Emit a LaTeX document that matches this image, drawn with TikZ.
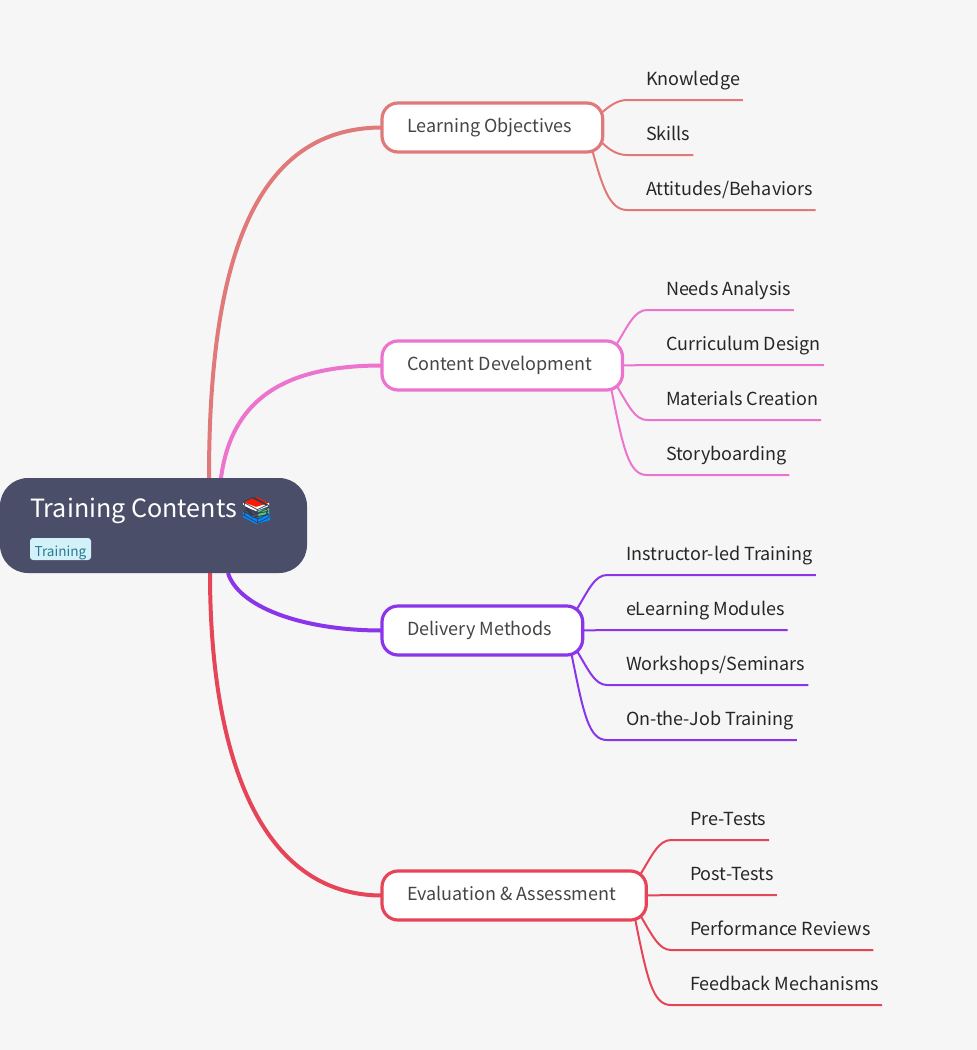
\documentclass[tikz,border=0pt]{standalone}
\usepackage{fontspec}
\setmainfont{Noto Sans CJK SC}
\newfontfamily\emojifont{Noto Emoji}
\usetikzlibrary{backgrounds}
\definecolor{paper}{HTML}{F6F6F6}
\definecolor{rootcol}{HTML}{4B4E69}
\definecolor{tagcol}{HTML}{D3F1F8}
\definecolor{tagtext}{HTML}{2B7A92}
\definecolor{objcol}{HTML}{E07A7A}
\definecolor{devcol}{HTML}{EC74CE}
\definecolor{delcol}{HTML}{8A35EA}
\definecolor{evalcol}{HTML}{E64558}
\tikzset{
  rootbox/.style={fill=rootcol, rounded corners=28pt, minimum width=307pt, minimum height=95pt, anchor=north west, inner sep=0pt, outer sep=0pt},
  tagbox/.style={fill=tagcol, rounded corners=3pt, text=tagtext, font=\fontsize{13.6}{14}\selectfont, anchor=north west, inner sep=0pt, outer sep=0pt, minimum width=61pt, minimum height=22pt, text height=16pt, text depth=2pt},
  branch/.style={draw=#1, fill=white, line width=3.2pt, rounded corners=16pt, minimum height=49pt, anchor=west, text=black!73, font=\fontsize{18}{18}\selectfont, inner xsep=25pt, inner ysep=0pt, outer sep=0pt, text height=14pt, text depth=4pt, execute at end node=\hspace*{5.5pt}},
  leaf/.style={anchor=south west, inner xsep=3pt, inner ysep=10pt, outer sep=0pt, text=black!85, font=\fontsize{18}{18}\selectfont, text height=13pt, text depth=5pt},
  trunk/.style={draw=#1, line width=4pt},
  twig/.style={draw=#1, line width=2pt}
}
\begin{document}
\begin{tikzpicture}[x=1pt,y=-1pt]
  \useasboundingbox (0,0) rectangle (977,1050);
  % Hintergrund
  \begin{pgfonlayer}{background}
    \fill[paper] (0,0) rectangle (977,1050);
  \end{pgfonlayer}
  % Wurzel
  \node[rootbox] (root) at (0,478) {};
  \node[anchor=base west, inner sep=0pt, text=white, font=\fontsize{25.1}{25}\selectfont] (title) at (30,517) {Training Contents};
  % Buecher
  \fill[red!80!orange] (243,502) -- (257,497) -- (269,503) -- (256,507) -- cycle;
  \fill[white] (243,502) -- (256,507) -- (269,503) -- (269,506) -- (256,511) -- (243,506) -- cycle;
  \fill[green!45!teal!70!white] (257,511) -- (269,508) -- (269,514) -- (259,517) -- cycle;
  \fill[blue!45!cyan] (243,511) -- (256,518) -- (270,514) -- (270,520) -- (256,524) -- (243,517) -- cycle;
  \node[inner sep=0pt, text=rootcol!75!black, font=\emojifont\fontsize{26}{26}\selectfont] (books) at (256.5,510.5) {📚};
  \node[tagbox] (tag) at (30,538) {Training};
  % Zweige
  \node[branch=objcol] (obj) at (382,127.5) {Learning Objectives};
  \node[branch=devcol] (dev) at (382,365.5) {Content Development};
  \node[branch=delcol] (del) at (382,630.5) {Delivery Methods};
  \node[branch=evalcol] (eval) at (382,895.5) {Evaluation \& Assessment};
  % Blaetter
  \node[leaf] (know) at (643,100) {Knowledge};
  \node[leaf] (skill) at (643,155) {Skills};
  \node[leaf] (atti) at (643,210) {Attitudes/Behaviors};
  \node[leaf] (need) at (663,310) {Needs Analysis};
  \node[leaf] (curr) at (663,365) {Curriculum Design};
  \node[leaf] (mate) at (663,420) {Materials Creation};
  \node[leaf] (story) at (663,475) {Storyboarding};
  \node[leaf] (inst) at (623,575) {Instructor-led Training};
  \node[leaf] (elea) at (623,630) {eLearning Modules};
  \node[leaf] (work) at (623,685) {Workshops/Seminars};
  \node[leaf] (job) at (623,740) {On-the-Job Training};
  \node[leaf] (pre) at (687,840) {Pre-Tests};
  \node[leaf] (post) at (687,895) {Post-Tests};
  \node[leaf] (perf) at (687,950) {Performance Reviews};
  \node[leaf] (feed) at (687,1005) {Feedback Mechanisms};
  % Verbindungen
  \begin{pgfonlayer}{background}
    \draw[trunk=objcol] ([xshift=209pt]root.north west) .. controls +(0,-208) and +(-132,0) .. (obj.west);
    \draw[trunk=devcol] ([xshift=221pt]root.north west) .. controls +(11,-83) and +(-92,0) .. (dev.west);
    \draw[trunk=delcol] ([xshift=228pt]root.south west) .. controls +(10,33) and +(-82,0) .. (del.west);
    \draw[trunk=evalcol] ([xshift=210pt]root.south west) .. controls +(0,187) and +(-120,0) .. (eval.west);
    \draw[twig=objcol] ([yshift=14pt,xshift=-2pt]obj.east) .. controls +(8,-7) and +(-10,0) .. ([xshift=-16pt]know.south west) -- (know.south east);
    \draw[twig=objcol] ([yshift=-14pt,xshift=-2pt]obj.east) .. controls +(8,8) and +(-10,0) .. ([xshift=-16pt]skill.south west) -- (skill.south east);
    \draw[twig=objcol] ([xshift=-10pt]obj.south east) .. controls +(9,32) and +(-18,0) .. ([xshift=-16pt]atti.south west) -- (atti.south east);
    \draw[twig=devcol] ([yshift=21pt,xshift=-6pt]dev.east) .. controls +(12,-20) and +(-12,0) .. ([xshift=-16pt]need.south west) -- (need.south east);
    \draw[twig=devcol] (dev.east) -- ([xshift=-16pt]curr.south west) -- (curr.south east);
    \draw[twig=devcol] ([yshift=-20pt,xshift=-6pt]dev.east) .. controls +(12,20) and +(-12,0) .. ([xshift=-16pt]mate.south west) -- (mate.south east);
    \draw[twig=devcol] ([xshift=-11pt]dev.south east) .. controls +(12,60) and +(-18,0) .. ([xshift=-16pt]story.south west) -- (story.south east);
    \draw[twig=delcol] ([yshift=21pt,xshift=-6pt]del.east) .. controls +(12,-20) and +(-12,0) .. ([xshift=-16pt]inst.south west) -- (inst.south east);
    \draw[twig=delcol] (del.east) -- ([xshift=-16pt]elea.south west) -- (elea.south east);
    \draw[twig=delcol] ([yshift=-20pt,xshift=-6pt]del.east) .. controls +(12,20) and +(-12,0) .. ([xshift=-16pt]work.south west) -- (work.south east);
    \draw[twig=delcol] ([xshift=-11pt]del.south east) .. controls +(12,60) and +(-18,0) .. ([xshift=-16pt]job.south west) -- (job.south east);
    \draw[twig=evalcol] ([yshift=21pt,xshift=-6pt]eval.east) .. controls +(12,-20) and +(-12,0) .. ([xshift=-16pt]pre.south west) -- (pre.south east);
    \draw[twig=evalcol] (eval.east) -- ([xshift=-16pt]post.south west) -- (post.south east);
    \draw[twig=evalcol] ([yshift=-20pt,xshift=-6pt]eval.east) .. controls +(12,20) and +(-12,0) .. ([xshift=-16pt]perf.south west) -- (perf.south east);
    \draw[twig=evalcol] ([xshift=-11pt]eval.south east) .. controls +(12,60) and +(-18,0) .. ([xshift=-16pt]feed.south west) -- (feed.south east);
  \end{pgfonlayer}
\end{tikzpicture}
\end{document}
